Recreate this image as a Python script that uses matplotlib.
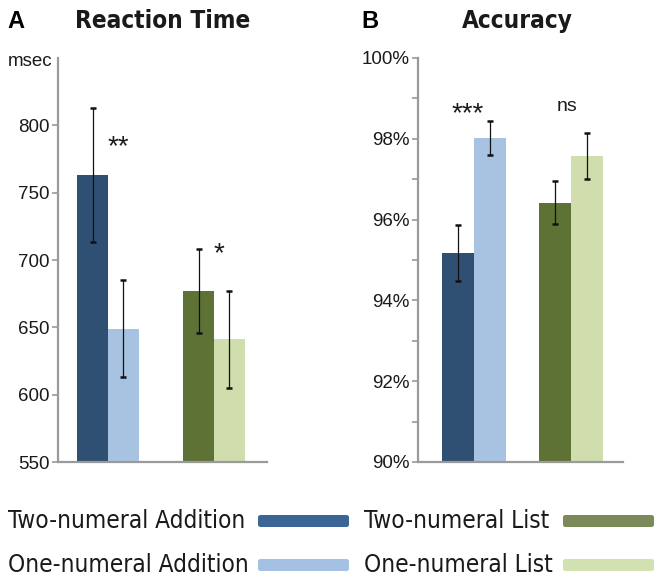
import numpy as np
import matplotlib
matplotlib.use("Agg")
import matplotlib.pyplot as plt
from matplotlib.patches import FancyBboxPatch

# data
groups = ["Addition", "List"]
rt_two = [763, 677]
rt_one = [649, 641]
rt_two_err = [50, 31]
rt_one_err = [36, 36]
acc_two = [95.17, 96.42]
acc_one = [98.03, 97.57]
acc_two_err = [0.70, 0.53]
acc_one_err = [0.42, 0.57]
rt_stars = ["**", "*"]
acc_stars = ["***", "ns"]
legend_labels = ["Two-numeral Addition", "One-numeral Addition", "Two-numeral List", "One-numeral List"]

bar_colors = [["#2f5072", "#a8c3e1"], ["#5f7236", "#cfdeac"]]
key_colors = ["#3b6594", "#a4c1e3", "#7b8a58", "#d2e1b0"]

W, H = 660, 580
fig = plt.figure(figsize=(W / 100, H / 100), dpi=100)

plt.rcParams['font.family'] = ['Liberation Sans', 'DejaVu Sans']
narrow = ['DejaVu Sans']
grey = "#9a9a9a"


def px_axes(l, r, top, bot):
    return fig.add_axes([l / W, 1 - bot / H, (r - l) / W, (bot - top) / H])


def style(ax):
    for s in ["top", "right"]:
        ax.spines[s].set_visible(False)
    for s in ["left", "bottom"]:
        ax.spines[s].set_color(grey)
        ax.spines[s].set_linewidth(1.6)
    ax.tick_params(axis="y", colors=grey, labelcolor="#1a1a1a", labelsize=13.5,
                   length=4, width=1.2, pad=2)
    ax.tick_params(axis="y", which="minor", colors=grey, length=4, width=1.2)
    ax.set_xticks([])


def draw(ax, two, one, two_err, one_err, width):
    x = np.arange(len(groups))
    for i in range(len(groups)):
        ax.bar(x[i] - width / 2, two[i], width, color=bar_colors[i][0], zorder=2)
        ax.bar(x[i] + width / 2, one[i], width, color=bar_colors[i][1], zorder=2)
    ax.errorbar(x - width / 2, two, yerr=two_err, fmt="none", ecolor="#111111",
                elinewidth=0.9, capsize=2.5, capthick=1.8, zorder=3)
    ax.errorbar(x + width / 2, one, yerr=one_err, fmt="none", ecolor="#111111",
                elinewidth=0.9, capsize=2.5, capthick=1.8, zorder=3)


# panel A
ax1 = px_axes(58, 267, 58, 462)
draw(ax1, rt_two, rt_one, rt_two_err, rt_one_err, 0.29)
ax1.set_ylim(550, 850)
ax1.set_xlim(-0.472, 1.5)
ax1.set_yticks([550, 600, 650, 700, 750, 800])
style(ax1)
ax1.text(0.094, 784, rt_stars[0], ha="center", va="center", fontsize=20, color="#1a1a1a")
ax1.text(1.047, 704, rt_stars[1], ha="center", va="center", fontsize=20, color="#1a1a1a")

# panel B
ax2 = px_axes(418, 623, 58, 462)
draw(ax2, acc_two, acc_one, acc_two_err, acc_one_err, 0.33)
ax2.set_ylim(90, 100)
ax2.set_xlim(-0.577, 1.536)
ax2.set_yticks([90, 92, 94, 96, 98, 100])
ax2.set_yticklabels(["%d%%" % v for v in [90, 92, 94, 96, 98, 100]])
ax2.set_yticks([91, 93, 95, 97, 99], minor=True)
style(ax2)
ax2.text(-0.062, 98.6, acc_stars[0], ha="center", va="center", fontsize=20, color="#1a1a1a")
ax2.text(0.96, 98.8, acc_stars[1], ha="center", va="center", fontsize=14, color="#1a1a1a")

# headings
fig.text(16 / W, 1 - 22 / H, "A", ha="center", va="center", fontsize=17, fontweight="bold")
fig.text(370 / W, 1 - 22 / H, "B", ha="center", va="center", fontsize=17, fontweight="bold")
fig.text(163 / W, 1 - 21 / H, "Reaction Time", ha="center", va="center", fontsize=17.5,
         fontweight="bold", family=narrow, fontstretch="condensed", color="#1a1a1a")
fig.text(517 / W, 1 - 21 / H, "Accuracy", ha="center", va="center", fontsize=17.5,
         fontweight="bold", family=narrow, fontstretch="condensed", color="#1a1a1a")
fig.text(52 / W, 1 - 62 / H, "msec", ha="right", va="center", fontsize=13.5, color="#1a1a1a")

# legend below the panels
text_left = [8, 8, 364, 364]
key_left = [258, 258, 563, 563]
row_y = [521, 565]
for i, lab in enumerate(legend_labels):
    y = row_y[i % 2]
    fig.text(text_left[i] / W, 1 - y / H, lab, ha="left", va="center", fontsize=17.5,
             family=narrow, fontstretch="condensed", color="#1a1a1a")
    box = FancyBboxPatch((key_left[i] / W, 1 - (y + 6) / H), 91 / W, 12 / H,
                         boxstyle="round,pad=0,rounding_size=0.004",
                         transform=fig.transFigure, facecolor=key_colors[i],
                         edgecolor="none")
    fig.add_artist(box)

fig.savefig("out.png", dpi=100)
